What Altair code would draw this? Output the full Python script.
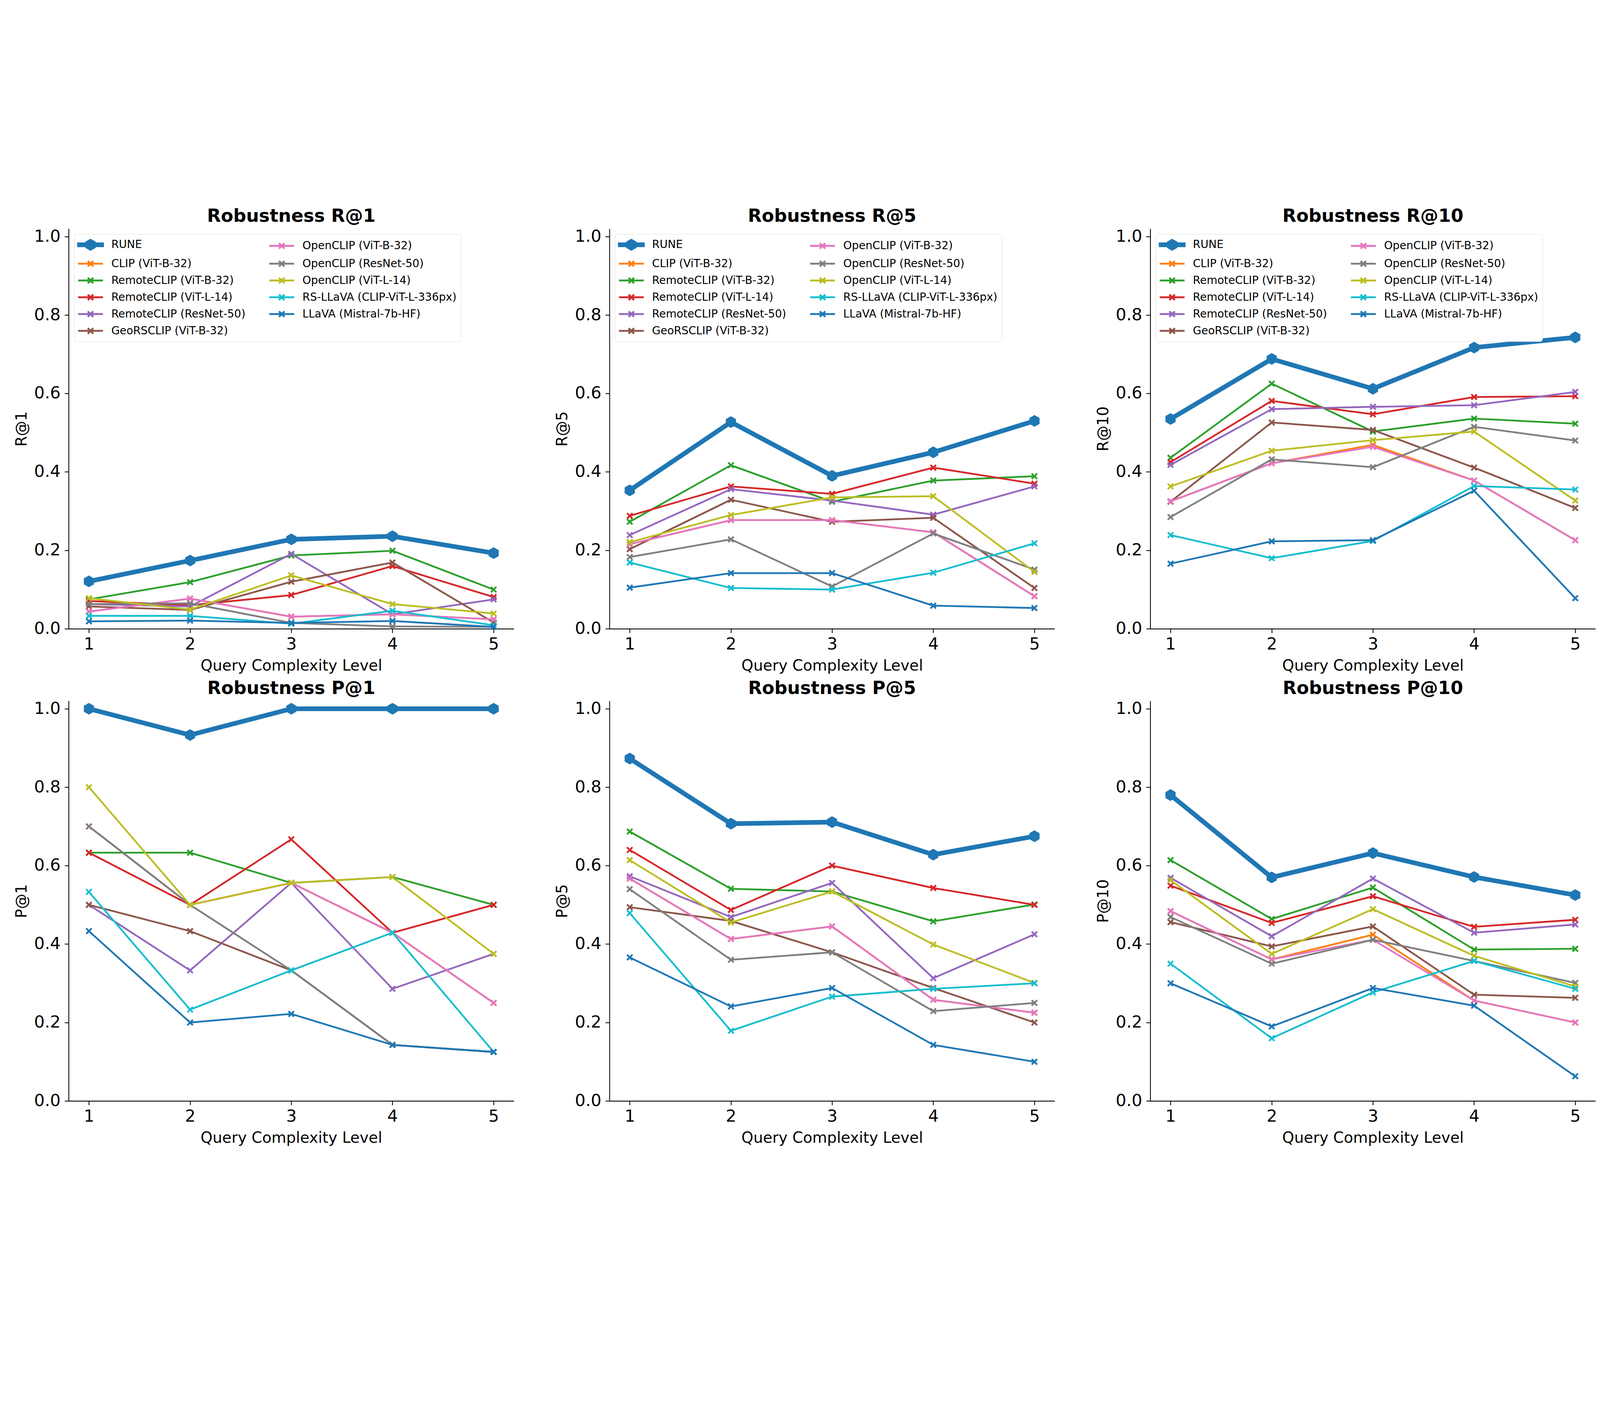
import altair as alt
import pandas as pd

LEVELS = [1, 2, 3, 4, 5]
SERIES = [
    "RUNE", "CLIP (ViT-B-32)", "RemoteCLIP (ViT-B-32)", "RemoteCLIP (ViT-L-14)",
    "RemoteCLIP (ResNet-50)", "GeoRSCLIP (ViT-B-32)", "OpenCLIP (ViT-B-32)",
    "OpenCLIP (ResNet-50)", "OpenCLIP (ViT-L-14)", "RS-LLaVA (CLIP-ViT-L-336px)",
    "LLaVA (Mistral-7b-HF)",
]
COLORS = ["#1f77b4", "#ff7f0e", "#2ca02c", "#d62728", "#9467bd", "#8c564b",
          "#e377c2", "#7f7f7f", "#bcbd22", "#17becf", "#1f77b4"]

R_AT_1 = [
    [0.121, 0.174, 0.228, 0.236, 0.193],
    [0.044, 0.077, 0.031, 0.037, 0.024],
    [0.075, 0.119, 0.187, 0.199, 0.100],
    [0.071, 0.060, 0.086, 0.160, 0.081],
    [0.063, 0.057, 0.191, 0.037, 0.075],
    [0.057, 0.048, 0.120, 0.169, 0.016],
    [0.044, 0.077, 0.031, 0.037, 0.024],
    [0.063, 0.065, 0.015, 0.006, 0.005],
    [0.078, 0.049, 0.136, 0.063, 0.039],
    [0.033, 0.033, 0.013, 0.046, 0.009],
    [0.019, 0.021, 0.015, 0.020, 0.005],
]
R_AT_5 = [
    [0.353, 0.527, 0.390, 0.450, 0.530],
    [0.216, 0.277, 0.277, 0.246, 0.083],
    [0.273, 0.417, 0.324, 0.378, 0.389],
    [0.288, 0.363, 0.344, 0.411, 0.370],
    [0.239, 0.356, 0.327, 0.291, 0.363],
    [0.203, 0.329, 0.273, 0.283, 0.104],
    [0.216, 0.277, 0.277, 0.246, 0.083],
    [0.183, 0.228, 0.108, 0.243, 0.151],
    [0.221, 0.290, 0.335, 0.338, 0.145],
    [0.169, 0.104, 0.100, 0.143, 0.218],
    [0.105, 0.142, 0.142, 0.059, 0.053],
]
R_AT_10 = [
    [0.535, 0.688, 0.612, 0.717, 0.743],
    [0.325, 0.422, 0.469, 0.378, 0.226],
    [0.436, 0.625, 0.503, 0.536, 0.523],
    [0.425, 0.581, 0.547, 0.591, 0.593],
    [0.418, 0.560, 0.566, 0.570, 0.604],
    [0.324, 0.526, 0.507, 0.411, 0.308],
    [0.325, 0.422, 0.464, 0.378, 0.226],
    [0.285, 0.432, 0.412, 0.515, 0.480],
    [0.363, 0.454, 0.481, 0.503, 0.327],
    [0.239, 0.180, 0.224, 0.364, 0.355],
    [0.166, 0.223, 0.226, 0.352, 0.078],
]
P_AT_1 = [
    [1.000, 0.933, 1.000, 1.000, 1.000],
    [0.700, 0.500, 0.556, 0.429, 0.250],
    [0.633, 0.633, 0.556, 0.571, 0.500],
    [0.633, 0.500, 0.667, 0.429, 0.500],
    [0.500, 0.333, 0.556, 0.286, 0.375],
    [0.500, 0.433, 0.333, 0.143, 0.125],
    [0.700, 0.500, 0.556, 0.429, 0.250],
    [0.700, 0.500, 0.333, 0.143, 0.125],
    [0.800, 0.500, 0.556, 0.571, 0.375],
    [0.533, 0.233, 0.333, 0.429, 0.125],
    [0.433, 0.200, 0.222, 0.143, 0.125],
]
P_AT_5 = [
    [0.873, 0.707, 0.711, 0.628, 0.675],
    [0.567, 0.413, 0.445, 0.258, 0.225],
    [0.687, 0.541, 0.534, 0.458, 0.501],
    [0.640, 0.487, 0.600, 0.543, 0.500],
    [0.573, 0.469, 0.556, 0.313, 0.425],
    [0.494, 0.459, 0.379, 0.288, 0.200],
    [0.567, 0.413, 0.445, 0.258, 0.225],
    [0.540, 0.360, 0.379, 0.229, 0.250],
    [0.614, 0.455, 0.534, 0.399, 0.301],
    [0.479, 0.179, 0.266, 0.286, 0.300],
    [0.366, 0.241, 0.288, 0.143, 0.100],
]
P_AT_10 = [
    [0.780, 0.570, 0.632, 0.571, 0.525],
    [0.484, 0.361, 0.424, 0.256, 0.200],
    [0.614, 0.464, 0.544, 0.386, 0.388],
    [0.549, 0.454, 0.522, 0.444, 0.462],
    [0.569, 0.420, 0.567, 0.429, 0.450],
    [0.456, 0.394, 0.445, 0.271, 0.263],
    [0.484, 0.361, 0.411, 0.256, 0.200],
    [0.469, 0.350, 0.411, 0.357, 0.301],
    [0.563, 0.375, 0.489, 0.370, 0.292],
    [0.350, 0.160, 0.277, 0.357, 0.286],
    [0.300, 0.190, 0.288, 0.243, 0.063],
]

METRICS = ["R@1", "R@5", "R@10", "P@1", "P@5", "P@10"]
VALUES = [R_AT_1, R_AT_5, R_AT_10, P_AT_1, P_AT_5, P_AT_10]

FONT = "DejaVu Sans"
PLOT_W, PLOT_H = 1630, 1465

CROSS = "M-1,-1L1,1M-1,1L1,-1"
HEXAGON = "M0,-1L0.866,-0.5L0.866,0.5L0,1L-0.866,0.5L-0.866,-0.5Z"

LEG_SIZE = 1600
U = (LEG_SIZE ** 0.5) / 2


def _f(v):
    return f"{v:.3f}"


def legend_path(is_rune):
    x0, x1, cx = -24.0 / U, 67.0 / U, 21.5 / U
    if is_rune:
        h = 5.0 / U
        r = 18.0 / U
        bar = f"M{_f(x0)},{_f(-h)}L{_f(x1)},{_f(-h)}L{_f(x1)},{_f(h)}L{_f(x0)},{_f(h)}Z"
        pts = [(cx, -r), (cx + 0.866 * r, -0.5 * r), (cx + 0.866 * r, 0.5 * r),
               (cx, r), (cx - 0.866 * r, 0.5 * r), (cx - 0.866 * r, -0.5 * r)]
        hexp = "M" + "L".join(f"{_f(a)},{_f(b)}" for a, b in pts) + "Z"
        return bar + hexp
    a = 10.0 / U
    return (f"M{_f(x0)},0L{_f(x1)},0"
            f"M{_f(cx - a)},{_f(-a)}L{_f(cx + a)},{_f(a)}"
            f"M{_f(cx - a)},{_f(a)}L{_f(cx + a)},{_f(-a)}")


LEG_DOMAIN = list(SERIES)
LEG_COLORS = list(COLORS)
LEG_SHAPES = [legend_path(i == 0) for i in range(len(SERIES))]


def panel(idx, show_legend):
    metric = METRICS[idx]
    vals = VALUES[idx]
    x = alt.X("level:Q",
              scale=alt.Scale(domain=[0.8, 5.2], nice=False, zero=False),
              axis=alt.Axis(values=LEVELS, format="d", title="Query Complexity Level",
                            titlePadding=22, labelPadding=12))
    y = alt.Y("value:Q",
              scale=alt.Scale(domain=[0, 1.02], nice=False, zero=False),
              axis=alt.Axis(values=[0, 0.2, 0.4, 0.6, 0.8, 1.0], format=".1f",
                            title=metric, titlePadding=16, labelPadding=15))
    layers = []
    frames = []
    for s, name in enumerate(SERIES):
        df = pd.DataFrame({"level": LEVELS, "value": vals[s], "series": name})
        frames.append(df)
        rune = s == 0
        if rune:
            pt = alt.OverlayMarkDef(shape=HEXAGON, size=1849, filled=True,
                                    color=COLORS[s], strokeWidth=0, opacity=1)
        else:
            pt = alt.OverlayMarkDef(shape=CROSS, size=400, filled=False,
                                    color=COLORS[s], strokeWidth=6.5, opacity=1)
        layers.append(
            alt.Chart(df).mark_line(color=COLORS[s], strokeWidth=17 if rune else 6.5,
                                    strokeCap="square", strokeJoin="round", point=pt)
            .encode(x=x, y=y)
        )
    if show_legend:
        full = pd.concat(frames, ignore_index=True)
        leg = alt.Legend(
            title=None, orient="top-left", offset=20, columns=2,
            labelFont=FONT, labelFontSize=40, labelColor="black", labelLimit=2000,
            labelOffset=74, symbolSize=LEG_SIZE, symbolStrokeWidth=7,
            rowPadding=12.5, columnPadding=72, padding=15,
            fillColor="white", strokeColor="#cccccc", cornerRadius=10,
            symbolOpacity=1,
        )
        layers.append(
            alt.Chart(full).transform_filter("false")
            .mark_point(filled=True, opacity=1)
            .encode(
                x=x, y=y,
                fill=alt.Fill("series:N", scale=alt.Scale(domain=LEG_DOMAIN, range=LEG_COLORS), legend=leg),
                stroke=alt.Stroke("series:N", scale=alt.Scale(domain=LEG_DOMAIN, range=LEG_COLORS), legend=leg),
                shape=alt.Shape("series:N", scale=alt.Scale(domain=LEG_DOMAIN, range=LEG_SHAPES), legend=leg),
            )
        )
    return alt.layer(*layers).properties(
        width=PLOT_W, height=PLOT_H,
        title=alt.TitleParams(f"Robustness {metric}", font=FONT, fontSize=66,
                              fontWeight="bold", color="black", anchor="middle",
                              offset=-57, baseline="bottom"),
    )


RES = dict(fill="independent", stroke="independent", shape="independent")

panels = [panel(i, i < 3) for i in range(6)]

chart = (
    alt.concat(*panels, columns=3, spacing={"row": 20, "column": 150})
    .resolve_scale(**RES).resolve_legend(**RES)
    .properties(padding={"left": 40, "top": 6, "right": 5, "bottom": 2},
                background="white")
    .configure_view(strokeWidth=0)
    .configure_axis(
        grid=False, labelFont=FONT, titleFont=FONT, labelFontSize=61,
        titleFontSize=55.6, titleFontWeight="normal", labelColor="black",
        titleColor="black", domainColor="black", domainWidth=3,
        tickColor="black", tickWidth=3, tickSize=15,
    )
)

chart.save("out.html", embed_options={"renderer": "svg", "actions": False})
